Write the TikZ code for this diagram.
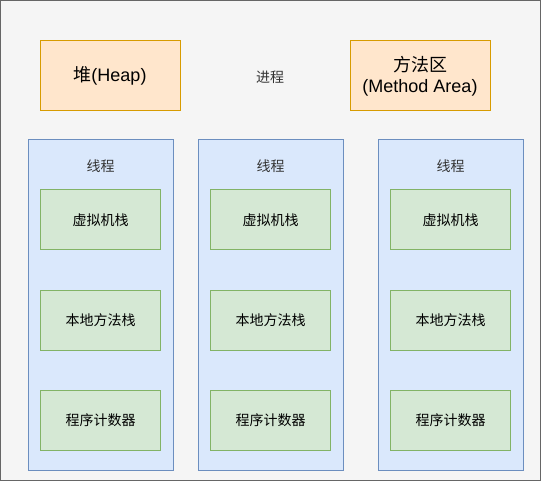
\documentclass[tikz,border=0pt]{standalone}
\usepackage{fontspec}
\setmainfont{Liberation Sans}
\newfontfamily\cjk{Noto Sans CJK SC}
\definecolor{outerfill}{HTML}{F5F5F5}
\definecolor{outerline}{HTML}{666666}
\definecolor{orfill}{HTML}{FFE6CC}
\definecolor{orline}{HTML}{D79B00}
\definecolor{blfill}{HTML}{DAE8FC}
\definecolor{blline}{HTML}{6C8EBF}
\definecolor{grfill}{HTML}{D5E8D4}
\definecolor{grline}{HTML}{82B366}
\definecolor{txt}{HTML}{333333}
\tikzset{
  orbox/.style={draw=orline, fill=orfill, line width=1pt, minimum width=140pt, minimum height=70pt, inner sep=0pt, font=\fontsize{18}{21}\selectfont, align=center},
  threadbox/.style={draw=blline, fill=blfill, line width=1pt, minimum width=145pt, minimum height=330pt, inner sep=0pt},
  grbox/.style={draw=grline, fill=grfill, line width=1pt, minimum width=120pt, minimum height=60pt, inner sep=0pt, font=\fontsize{14}{16}\selectfont\cjk},
  smalltxt/.style={font=\fontsize{14}{16}\selectfont\cjk, text=txt, inner sep=0pt}
}
\begin{document}
\begin{tikzpicture}[x=1pt,y=-1pt]
\useasboundingbox (0,0) rectangle (541,481);
\node[draw=outerline, fill=outerfill, line width=1pt, minimum width=540pt, minimum height=480pt, inner sep=0pt] (outer) at (270.5,240.5) {};
\node[orbox] (heap) at (110,76) {{\cjk 堆}(Heap)};
\node[orbox] (method) at (420,76) {{\cjk 方法区}\\(Method Area)};
\node[smalltxt] (proc) at (270,77) {进程};
\foreach \i/\x in {1/100.5,2/270.5,3/450.5}{
  \node[threadbox] (t\i) at (\x,305) {};
  \node[smalltxt] (tl\i) at (\x,166) {线程};
  \node[grbox] (vm\i) at (\x,220) {虚拟机栈};
  \node[grbox] (nm\i) at (\x,320) {本地方法栈};
  \node[grbox] (pc\i) at (\x,420) {程序计数器};
}
\end{tikzpicture}
\end{document}
